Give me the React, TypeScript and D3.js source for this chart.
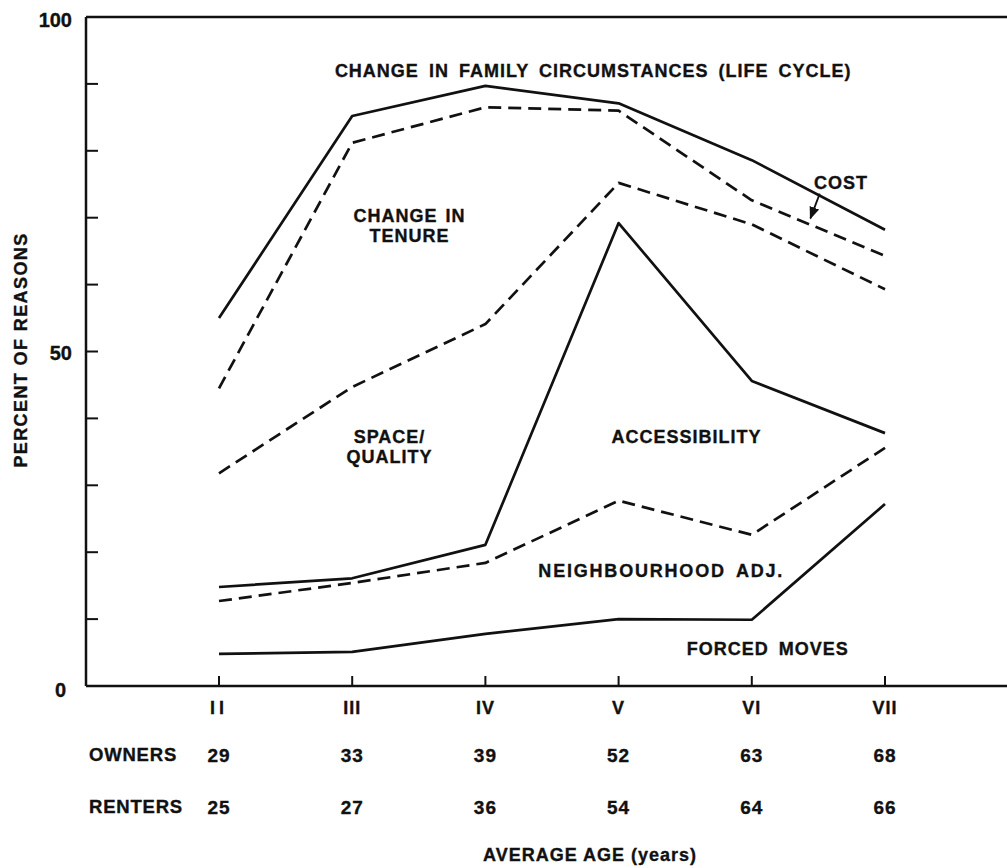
import * as d3 from 'd3';
import React from 'react';

// categories (life cycle stages) and the average age rows under the axis
const stages = ['II', 'III', 'IV', 'V', 'VI', 'VII'];
const owners = [29, 33, 39, 52, 63, 68];
const renters = [25, 27, 36, 54, 64, 66];

// cumulative percent of reasons, boundaries between the bands
const familyTop = [55, 85.2, 89.7, 87.1, 78.6, 68.2];
const costLower = [44.5, 81.2, 86.5, 86, 72.6, 64.3];
const tenureLower = [31.8, 44.7, 54.1, 75.2, 69, 59.3];
const accessTop = [14.8, 16.1, 21.1, 69.2, 45.6, 37.8];
const spaceLower = [12.7, 15.4, 18.4, 27.7, 22.6, 35.6];
const forcedTop = [4.8, 5.1, 7.8, 10, 9.9, 27.2];

const yTicks = [0, 10, 20, 30, 40, 50, 60, 70, 80, 90, 100];
const yLabels = [0, 50, 100];

const W = 1007;
const H = 868;
const FONT = '"Liberation Sans", Arial, Helvetica, sans-serif';

function App() {
    const x = d3.scaleLinear().domain([0, stages.length - 1]).range([219, 885]);
    const y = d3.scaleLinear().domain([0, 100]).range([686, 17]);
    const left = 86;

    const line = d3.line<number>()
        .x((d, i) => x(i))
        .y(d => y(d));

    const series = [
        { values: familyTop, dashed: false },
        { values: costLower, dashed: true },
        { values: tenureLower, dashed: true },
        { values: accessTop, dashed: false },
        { values: spaceLower, dashed: true },
        { values: forcedTop, dashed: false },
    ];

    // band labels, placed in data space (stage index, percent)
    const labels = [
        { lines: ['CHANGE IN FAMILY CIRCUMSTANCES (LIFE CYCLE)'], sx: 0.87, v: 91, anchor: 'start', ws: 4, ls: 1 },
        { lines: ['COST'], sx: 4.67, v: 74.3, anchor: 'middle', ws: 4, ls: 1 },
        { lines: ['CHANGE IN', 'TENURE'], sx: 1.43, v: 69.4, anchor: 'middle', ws: 2, ls: 1 },
        { lines: ['SPACE/', 'QUALITY'], sx: 1.28, v: 36.3, anchor: 'middle', ws: 2, ls: 1 },
        { lines: ['ACCESSIBILITY'], sx: 3.51, v: 36.3, anchor: 'middle', ws: 2, ls: 1 },
        { lines: ['NEIGHBOURHOOD ADJ.'], sx: 3.32, v: 16.3, anchor: 'middle', ws: 4, ls: 1.8 },
        { lines: ['FORCED MOVES'], sx: 4.12, v: 4.6, anchor: 'middle', ws: 4, ls: 1 },
    ];

    const textStyle = { fontFamily: FONT, fontWeight: 700, fill: '#111', stroke: '#111', strokeWidth: 0.35 } as const;

    return (
        <svg width={W} height={H} style={{ position: 'absolute', left: 0, top: 0, background: '#fff' }}>
            <defs>
                <marker id="arrow" viewBox="0 0 10 10" refX="9" refY="5" markerWidth="7" markerHeight="7" orient="auto">
                    <path d="M0,1 L10,5 L0,9 Z" fill="#111" />
                </marker>
            </defs>

            {/* frame */}
            <line x1={left} x2={W} y1={y(100)} y2={y(100)} stroke="#111" strokeWidth={2.5} />
            <line x1={left} x2={W} y1={y(0)} y2={y(0)} stroke="#111" strokeWidth={2.5} />
            <line x1={left} x2={left} y1={y(100)} y2={y(0)} stroke="#111" strokeWidth={2.5} />

            {yTicks.map(t => (
                <line key={t} x1={left} x2={left + 12} y1={y(t)} y2={y(t)} stroke="#111" strokeWidth={2} />
            ))}
            {yLabels.map(t => (
                <text key={t} x={t === 0 ? 66 : 72} y={y(t) + (t === 100 ? 3 : t === 0 ? 4 : 1)} dy="0.35em" textAnchor="end"
                    style={{ ...textStyle, fontSize: 20 }}>{t}</text>
            ))}
            <text transform={`translate(27, 350) rotate(-90)`} textAnchor="middle"
                style={{ ...textStyle, fontSize: 18, letterSpacing: 1.4 }}>PERCENT OF REASONS</text>

            {stages.map((s, i) => (
                <g key={s}>
                    <line x1={x(i)} x2={x(i)} y1={y(0)} y2={y(0) - 10} stroke="#111" strokeWidth={2} />
                    <text x={x(i)} y={708} dy="0.35em" textAnchor="middle"
                        style={{ ...textStyle, fontSize: 18, letterSpacing: s === 'II' ? 4 : 1 }}>{s}</text>
                    <text x={x(i)} y={755} dy="0.35em" textAnchor="middle"
                        style={{ ...textStyle, fontSize: 19, letterSpacing: 1 }}>{owners[i]}</text>
                    <text x={x(i)} y={807} dy="0.35em" textAnchor="middle"
                        style={{ ...textStyle, fontSize: 19, letterSpacing: 1 }}>{renters[i]}</text>
                </g>
            ))}
            <text x={89} y={755} dy="0.35em" style={{ ...textStyle, fontSize: 18.5, letterSpacing: 0.8 }}>OWNERS</text>
            <text x={89} y={807} dy="0.35em" style={{ ...textStyle, fontSize: 18.5, letterSpacing: 0.8 }}>RENTERS</text>
            <text x={590} y={855} dy="0.35em" textAnchor="middle"
                style={{ ...textStyle, fontSize: 18, letterSpacing: 1 }}>AVERAGE AGE (years)</text>

            {series.map((s, i) => (
                <path key={i} d={line(s.values) ?? ''} fill="none" stroke="#111" strokeWidth={2.7}
                    strokeDasharray={s.dashed ? '13,7' : undefined} strokeLinejoin="round" />
            ))}

            {labels.map((l, i) => (
                <text key={i} x={x(l.sx)} y={y(l.v)} textAnchor={l.anchor}
                    style={{ ...textStyle, fontSize: 18, letterSpacing: l.ls, wordSpacing: l.ws }}>
                    {l.lines.map((t, j) => (
                        <tspan key={j} x={x(l.sx)} dy={j === 0 ? 0 : 20}>{t}</tspan>
                    ))}
                </text>
            ))}

            {/* COST pointer */}
            <line x1={x(4.51)} y1={y(73.6)} x2={x(4.44)} y2={y(69.9)} stroke="#111" strokeWidth={1.8}
                markerEnd="url(#arrow)" />
        </svg>
    );
}

export default App;
